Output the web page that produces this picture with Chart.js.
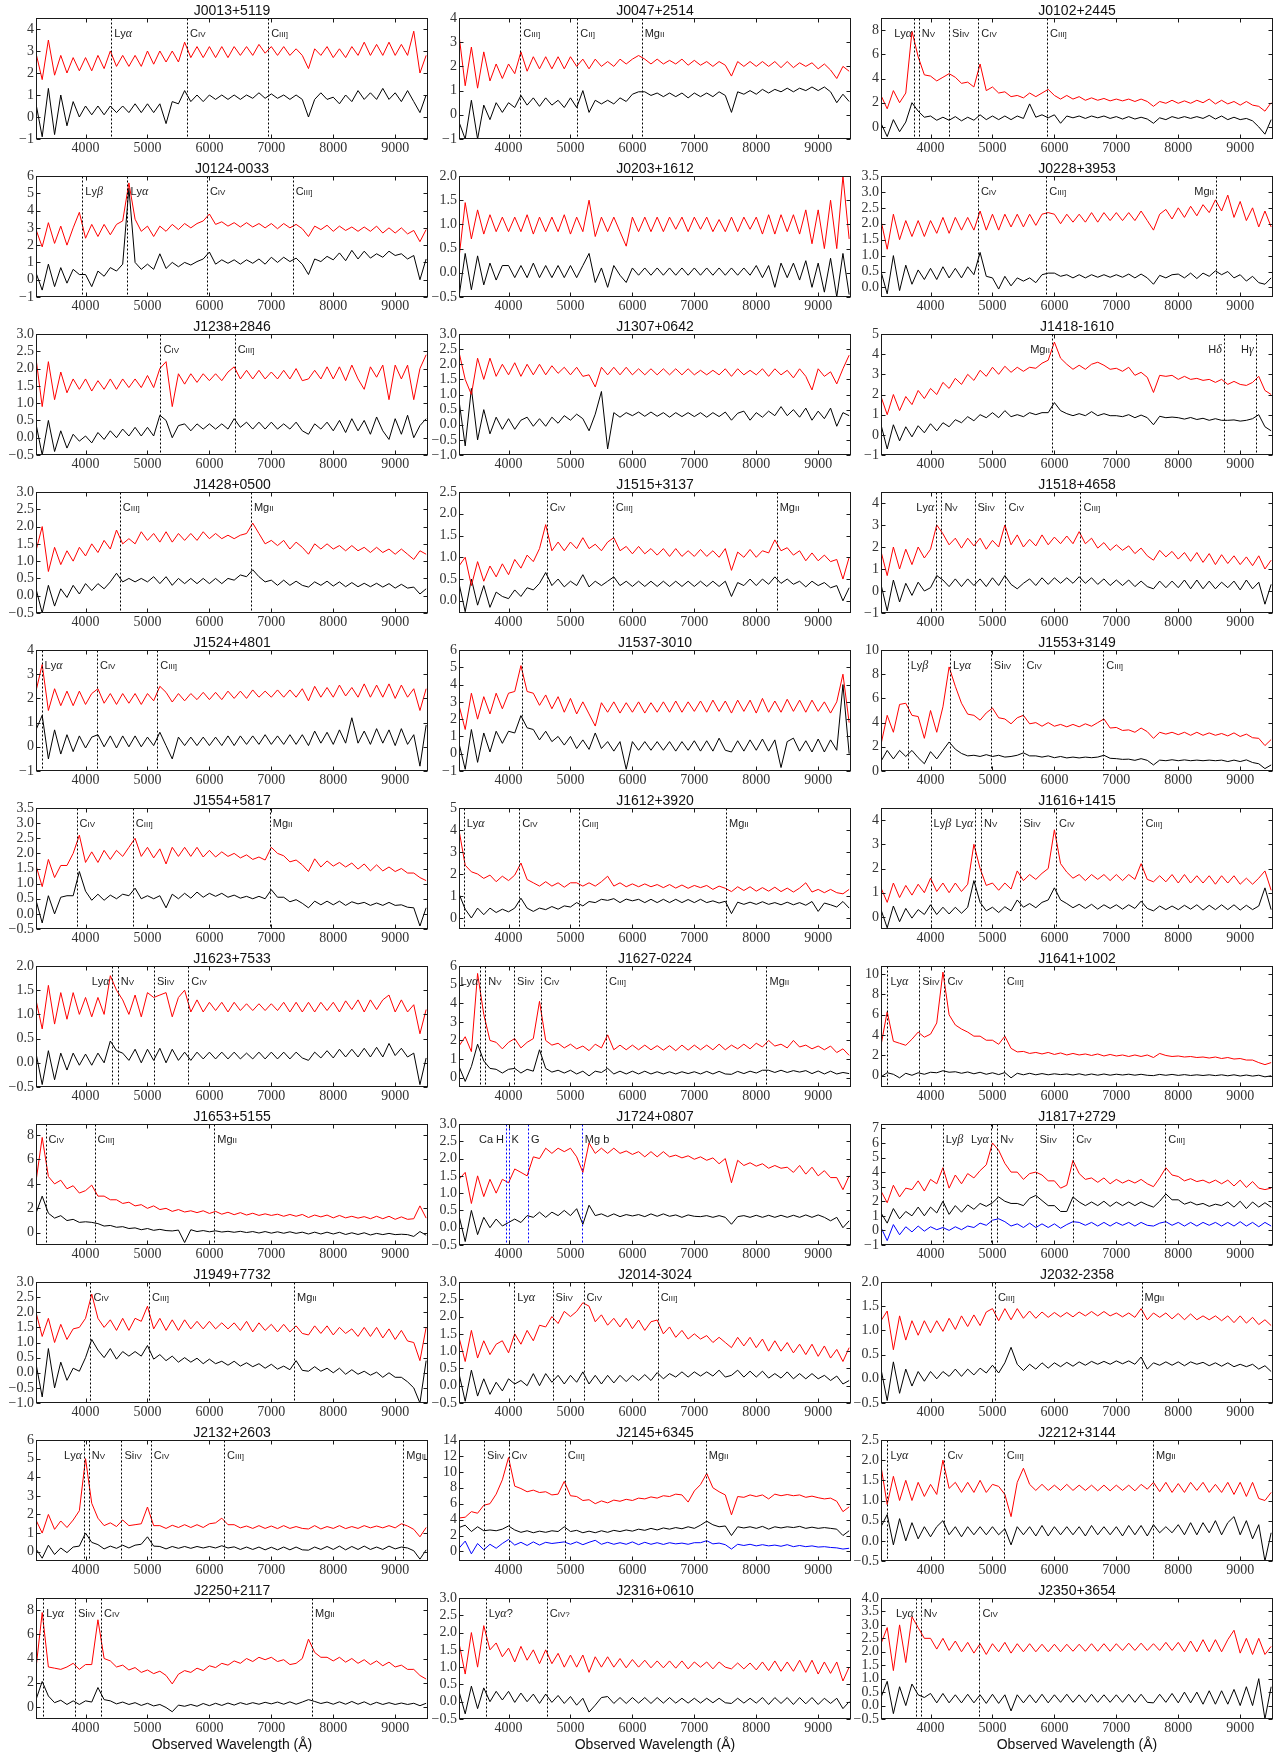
<!DOCTYPE html>
<html lang="en">
<head>
<meta charset="UTF-8">
<title>Quasar spectra</title>
<script src="https://cdn.jsdelivr.net/npm/chart.js"></script>
<style>
    body { margin: 0; background: #fff; }
    #page { position: relative; width: 1282px; height: 1756px; overflow: hidden; }
    canvas { position: absolute; }
</style>
</head>
<body>
<div id="page"></div>
<script>
// wavelength grid (Angstrom) shared by every spectrum
const wave = [3200,3300,3400,3500,3600,3700,3800,3900, 4000,4100,4200,4300,4400,4500,4600,4700,
              4800,4900,5000,5100,5200,5300,5400,5500, 5600,5700,5800,5900,6000,6100,6200,6300,
              6400,6500,6600,6700,6800,6900,7000,7100, 7200,7300,7400,7500,7600,7700,7800,7900,
              8000,8100,8200,8300,8400,8500,8600,8700, 8800,8900,9000,9100,9200,9300,9400,9500];
const xTicks = [4000, 5000, 6000, 7000, 8000, 9000];

const names = ['J0013+5119','J0047+2514','J0102+2445','J0124-0033','J0203+1612','J0228+3953',
               'J1238+2846','J1307+0642','J1418-1610','J1428+0500','J1515+3137','J1518+4658',
               'J1524+4801','J1537-3010','J1553+3149','J1554+5817','J1612+3920','J1616+1415',
               'J1623+7533','J1627-0224','J1641+1002','J1653+5155','J1724+0807','J1817+2729',
               'J1949+7732','J2014-3024','J2032-2358','J2132+2603','J2145+6345','J2212+3144',
               'J2250+2117','J2316+0610','J2350+3654'];
const yMin  = [-1,-1,-1,-1,-0.5,-0.3, -0.5,-1,-1,-0.5,-0.28,-1, -1,-1,0,-0.5,-0.5,-0.5,
               -0.5,-0.5,-1.1,-1,-0.5,-1, -1,-0.5,-0.5,-0.5,-1.2,-0.5, -1,-0.5,-0.5];
const yMax  = [4.5,4,9,6,2,3.5, 3,3,5,3,2.5,4.5, 4,6,10,3.5,5,4.5, 2,6,10.8,8.9,3,7.3,
               3,3,2,6,14,2.5, 9,3,4];
const yStep = [1,1,2,1,0.5,0.5, 0.5,0.5,1,0.5,0.5,1, 1,1,2,0.5,1,1, 0.5,1,2,2,0.5,1,
               0.5,0.5,0.5,1,2,0.5, 2,0.5,0.5];

// marked lines: [wavelength, label, side of the line the label sits on]
const lineMarks = [
  [[4414,'Lyα','r'],[5638,'C_IV','r'],[6949,'C_III]','r']],
  [[4190,'C_III]','r'],[5110,'C_II]','r'],[6150,'Mg_II','r']],
  [[3735,'Lyα','l'],[3810,'N_V','r'],[4300,'Si_IV','r'],[4770,'C_IV','r'],[5880,'C_III]','r']],
  [[3948,'Lyβ','r'],[4677,'Lyα','r'],[5960,'C_IV','r'],[7344,'C_III]','r']],
  [],
  [[4765,'C_IV','r'],[5870,'C_III]','r'],[8610,'Mg_II','l']],
  [[5210,'C_IV','r'],[6408,'C_III]','r']],
  [],
  [[5960,'Mg_II','l'],[8737,'Hδ','l'],[9250,'Hγ','l']],
  [[4553,'C_III]','r'],[6671,'Mg_II','r']],
  [[4618,'C_IV','r'],[5684,'C_III]','r'],[8329,'Mg_II','r']],
  [[4092,'Lyα','l'],[4175,'N_V','r'],[4710,'Si_IV','r'],[5210,'C_IV','r'],[6421,'C_III]','r']],
  [[3289,'Lyα','r'],[4184,'C_IV','r'],[5158,'C_III]','r']],
  [[4224,'','r']],
  [[3632,'Lyβ','r'],[4316,'Lyα','r'],[4974,'Si_IV','r'],[5500,'C_IV','r'],[6789,'C_III]','r']],
  [[3855,'C_IV','r'],[4763,'C_III]','r'],[6974,'Mg_II','r']],
  [[3276,'Lyα','r'],[4171,'C_IV','r'],[5132,'C_III]','r'],[7513,'Mg_II','r']],
  [[4000,'Lyβ','r'],[4724,'Lyα','l'],[4816,'N_V','r'],[5447,'Si_IV','r'],[6026,'C_IV','r'],[7421,'C_III]','r']],
  [[4421,'Lyα','l'],[4520,'N_V','r'],[5105,'Si_IV','r'],[5658,'C_IV','r']],
  [[3545,'Lyα','l'],[3625,'N_V','r'],[4090,'Si_IV','r'],[4520,'C_IV','r'],[5575,'C_III]','r'],[8165,'Mg_II','r']],
  [[3303,'Lyα','r'],[3816,'Si_IV','r'],[4224,'C_IV','r'],[5184,'C_III]','r']],
  [[3355,'C_IV','r'],[4145,'C_III]','r'],[6079,'Mg_II','r']],
  [[3960,'Ca H','l'],[4000,'K','r'],[4316,'G','r'],[5184,'Mg b','r']],
  [[4197,'Lyβ','r'],[4974,'Lyα','l'],[5079,'N_V','r'],[5711,'Si_IV','r'],[6303,'C_IV','r'],[7789,'C_III]','r']],
  [[4079,'C_IV','r'],[5026,'C_III]','r'],[7368,'Mg_II','r']],
  [[4092,'Lyα','r'],[4711,'Si_IV','r'],[5211,'C_IV','r'],[6408,'C_III]','r']],
  [[5039,'C_III]','r'],[7408,'Mg_II','r']],
  [[3974,'Lyα','l'],[4053,'N_V','r'],[4579,'Si_IV','r'],[5053,'C_IV','r'],[6237,'C_III]','r'],[9132,'Mg_II','r']],
  [[3605,'Si_IV','r'],[4000,'C_IV','r'],[4908,'C_III]','r'],[7184,'Mg_II','r']],
  [[3303,'Lyα','r'],[4224,'C_IV','r'],[5184,'C_III]','r'],[7592,'Mg_II','r']],
  [[3316,'Lyα','r'],[3829,'Si_IV','r'],[4250,'C_IV','r'],[7658,'Mg_II','r']],
  [[3632,'Lyα?','r'],[4618,'C_IV?','r']],
  [[3763,'Lyα','l'],[3842,'N_V','r'],[4789,'C_IV','r']]
];
const blueLinePanels = [22];

// upper (red) spectra
const redFlux = [
  [2.9,1.7,3.5,1.9,2.8,2.0,2.7,2.1, 2.7,2.1,2.8,2.2,3.0,2.3,2.8,2.3, 2.8,2.3,3.0,2.4,3.0,2.5,3.0,2.5, 3.4,2.7,3.2,2.7,3.2,2.7,3.2,2.7,
   3.2,2.8,3.2,2.8,3.3,2.9,3.2,2.8, 3.2,2.8,3.1,2.8,2.2,3.1,2.8,3.2, 2.7,3.1,2.7,3.2,2.8,3.4,2.8,3.3, 2.8,3.4,2.8,3.3,2.8,3.9,2.0,2.8],
  [3.3,1.2,2.8,1.1,2.6,1.4,2.1,1.5, 2.1,1.7,2.6,1.8,2.4,1.9,2.4,1.9, 2.4,1.9,2.4,2.0,2.3,1.9,2.3,2.0, 2.2,2.0,2.3,2.1,2.3,2.45,2.3,2.1,
   2.3,2.1,2.25,2.1,2.3,2.05,2.25,2.05, 2.2,2.0,2.2,2.05,1.6,2.2,2.0,2.2, 2.0,2.2,2.0,2.2,1.95,2.2,1.95,2.15, 2.0,2.15,1.9,2.1,1.85,1.5,2.0,1.8],
  [2.6,1.5,3.0,2.0,2.8,7.9,5.8,4.3, 4.2,3.8,4.1,4.4,4.1,3.6,3.7,3.3, 5.2,3.0,3.3,2.8,2.9,2.5,2.6,2.4, 2.8,2.5,2.8,3.1,2.6,2.3,2.6,2.3,
   2.5,2.2,2.4,2.2,2.35,2.15,2.3,2.15, 2.3,2.1,2.3,2.1,1.7,2.1,1.95,2.2, 1.95,2.15,1.95,2.2,2.0,2.3,1.9,2.2, 1.9,2.1,1.8,2.1,1.8,1.7,1.3,2.0],
  [2.9,1.9,3.3,2.1,3.1,2.0,3.0,3.9, 2.4,3.2,2.5,3.2,2.6,3.2,3.4,5.6, 3.5,2.8,3.1,2.5,3.1,2.8,3.2,2.9, 3.25,3.0,3.25,3.4,3.8,3.2,3.35,3.1,
   3.3,3.05,3.3,3.05,3.25,3.0,3.25,2.95, 3.25,3.0,3.2,2.95,2.5,3.1,2.9,3.15, 2.8,3.1,2.85,3.05,2.8,3.05,2.8,3.1, 2.7,3.0,2.7,3.0,2.65,2.85,2.2,2.9],
  [0.3,1.45,0.7,1.3,0.8,1.2,0.85,1.15, 0.85,1.15,0.85,1.2,0.8,1.15,0.85,1.15, 0.85,1.2,0.8,1.15,0.85,1.5,0.75,1.15, 0.85,1.15,0.85,0.55,1.15,0.85,1.15,0.85,
   1.15,0.85,1.15,0.9,1.15,0.85,1.15,0.9, 1.15,0.85,1.1,0.85,1.15,0.85,1.15,0.9, 1.15,0.8,1.2,0.8,1.2,0.85,1.2,0.8, 1.3,0.6,1.3,0.5,1.5,0.5,2.0,0.7],
  [2.1,1.2,2.3,1.5,2.1,1.6,2.1,1.6, 2.1,1.7,2.2,1.7,2.2,1.8,2.2,1.8, 2.4,1.8,2.3,1.8,2.3,1.9,2.3,1.9, 2.3,1.95,2.3,2.35,2.3,2.0,2.3,2.05,
   2.3,2.05,2.35,2.05,2.35,2.1,2.35,2.1, 2.35,2.1,2.4,2.1,1.8,2.3,2.45,2.15, 2.5,2.2,2.55,2.25,2.6,2.35,2.75,2.4, 2.9,2.2,2.7,2.1,2.5,1.9,2.4,1.9],
  [2.3,0.9,2.2,1.1,1.9,1.3,1.7,1.4, 1.7,1.35,1.65,1.4,1.7,1.4,1.7,1.45, 1.7,1.45,1.8,1.45,2.0,2.2,0.9,1.85, 1.55,1.85,1.6,1.85,1.65,1.85,1.65,1.9,
   2.05,1.7,1.95,1.7,1.95,1.7,1.9,1.7, 1.95,1.7,2.0,1.65,1.7,1.95,1.7,2.05, 1.7,2.05,1.65,2.1,1.7,1.4,2.05,1.75, 2.1,1.1,2.1,1.7,2.1,1.1,2.0,2.4],
  [2.4,1.5,1.0,2.2,1.5,2.2,1.6,2.0, 1.65,2.05,1.6,2.0,1.65,2.0,1.65,1.95, 1.7,1.9,1.65,1.9,1.6,1.65,1.25,1.9, 1.65,1.9,1.65,1.9,1.65,1.85,1.65,1.85,
   1.65,1.85,1.65,1.85,1.65,1.85,1.65,1.8, 1.65,1.8,1.65,1.85,1.6,1.85,1.65,1.8, 1.65,1.85,1.6,1.85,1.65,1.8,1.55,1.85, 1.6,1.15,1.85,1.6,1.75,1.35,1.85,2.3],
  [1.9,1.0,2.0,1.2,1.9,1.5,2.2,1.8, 2.3,2.0,2.6,2.3,2.8,2.5,3.0,2.7, 3.2,2.9,3.35,3.0,3.4,3.1,3.35,3.15, 3.35,3.3,3.55,3.7,4.6,3.8,3.5,3.25,
   3.45,3.25,3.5,3.6,3.45,3.25,3.3,3.15, 3.35,2.95,3.1,2.85,2.1,2.95,2.9,2.95, 2.75,2.9,2.75,2.8,2.7,2.75,2.6,2.75, 2.5,2.65,2.5,2.45,2.6,2.9,2.2,2.0],
  [1.3,2.0,0.7,1.4,0.9,1.3,1.0,1.4, 1.15,1.5,1.25,1.6,1.35,1.9,1.5,1.65, 1.5,1.85,1.6,1.8,1.55,1.85,1.55,1.8, 1.6,1.8,1.6,1.85,1.65,1.8,1.65,1.75,
   1.65,1.75,1.8,2.1,1.8,1.5,1.6,1.45, 1.6,1.35,1.55,1.4,1.2,1.5,1.35,1.5, 1.35,1.45,1.3,1.45,1.3,1.4,1.25,1.4, 1.25,1.35,1.2,1.35,1.2,1.05,1.3,1.2],
  [0.8,1.0,0.35,0.9,0.45,0.8,0.55,0.85, 0.6,0.95,0.75,1.05,0.9,1.2,1.75,1.15, 1.35,1.15,1.35,1.2,1.45,1.2,1.3,1.15, 1.35,1.45,1.15,1.25,1.08,1.25,1.08,1.2,
   1.05,1.2,1.02,1.2,1.02,1.15,1.02,1.18, 1.02,1.15,1.0,1.2,0.7,1.12,1.0,1.18, 1.0,1.15,1.1,1.4,1.15,1.22,1.05,1.15, 0.92,1.1,0.92,1.05,0.9,0.95,0.5,1.0],
  [1.8,0.7,2.0,1.0,1.9,1.2,2.0,1.5, 1.9,3.0,2.6,2.1,2.4,1.95,2.4,2.05, 2.4,1.9,2.3,2.0,3.0,2.1,2.55,2.0, 2.35,2.05,2.55,2.1,2.45,2.15,2.5,2.15,
   2.7,2.15,2.4,1.95,2.2,1.85,2.1,1.85, 2.05,1.7,1.95,1.6,1.4,1.85,1.55,1.8, 1.45,1.75,1.35,1.75,1.3,1.7,1.2,1.65, 1.25,1.6,1.2,1.55,1.15,1.6,1.0,1.4],
  [2.3,3.4,1.5,2.4,1.7,2.3,1.7,2.3, 1.75,2.2,2.4,1.8,2.2,1.75,2.2,1.8, 2.2,1.75,2.2,1.9,2.5,2.25,1.85,2.2, 1.9,2.2,1.95,2.25,1.95,2.25,1.95,2.3,
   2.0,2.3,2.0,2.35,2.05,2.3,2.05,2.35, 2.05,2.35,2.05,2.4,1.9,2.5,2.05,2.45, 2.05,2.55,2.1,2.45,2.05,2.6,2.05,2.55, 2.05,2.6,2.0,2.55,2.05,2.4,1.5,2.4],
  [2.8,1.4,3.5,2.0,3.3,2.3,3.5,2.6, 3.5,3.6,5.1,3.6,3.5,2.8,3.4,2.6, 3.3,2.4,3.2,2.3,3.0,2.3,1.6,2.95, 2.4,3.0,2.35,2.95,2.4,3.0,2.35,2.95,
   2.4,3.0,2.4,3.05,2.4,3.0,2.45,3.05, 2.4,3.1,2.45,3.05,2.35,3.1,2.45,3.1, 2.35,3.2,2.4,3.05,2.4,3.15,2.45,3.1, 2.4,3.1,2.45,3.0,2.35,3.0,4.6,1.8],
  [2.2,4.6,3.2,5.5,5.6,4.6,4.5,2.7, 5.0,3.2,5.3,8.6,7.0,5.6,4.7,4.6, 4.2,4.8,5.2,4.4,4.3,3.9,4.4,4.6, 3.9,4.0,3.7,4.0,3.7,3.85,3.65,3.85,
   3.65,3.9,3.7,4.0,4.3,3.55,3.6,3.35, 3.4,3.2,3.55,3.25,2.7,3.2,3.05,3.2, 3.0,3.2,2.95,3.2,2.95,3.15,2.95,3.1, 2.9,3.15,2.85,3.05,2.75,2.7,2.1,2.6],
  [1.6,0.9,1.8,1.2,1.6,1.6,2.0,2.6, 1.7,2.05,1.7,2.1,1.8,2.1,1.9,2.2, 2.5,1.9,2.2,1.85,2.15,1.65,2.2,1.9, 2.2,1.9,2.2,1.88,2.1,1.88,2.05,1.9,
   2.0,1.85,1.95,1.8,1.88,1.78,2.2,2.0, 1.92,1.72,1.78,1.62,1.4,1.82,1.55,1.75, 1.58,1.7,1.55,1.68,1.48,1.65,1.42,1.62, 1.42,1.55,1.4,1.5,1.35,1.35,1.2,1.1],
  [4.0,2.4,2.1,2.0,1.8,1.95,1.65,1.9, 1.7,1.95,2.5,1.75,1.6,1.45,1.65,1.45, 1.6,1.4,1.6,1.6,1.45,1.6,1.45,1.65, 1.9,1.45,1.6,1.42,1.55,1.42,1.55,1.42,
   1.52,1.38,1.52,1.36,1.5,1.35,1.48,1.38, 1.48,1.3,1.45,1.35,1.2,1.42,1.25,1.42, 1.22,1.38,1.22,1.4,1.2,1.36,1.18,1.36, 1.6,1.18,1.3,1.15,1.3,1.15,1.1,1.3],
  [1.2,0.6,1.4,0.8,1.3,0.9,1.35,1.0, 1.6,1.05,1.4,1.0,1.4,1.05,1.35,3.0, 2.0,1.3,1.4,1.1,1.4,1.15,1.9,1.5, 1.75,1.55,1.8,2.0,3.6,2.2,1.85,1.6,
   1.75,1.5,1.75,1.55,1.75,1.5,1.75,1.5, 1.75,1.55,2.2,1.55,1.45,1.7,1.45,1.75, 1.4,1.75,1.4,1.7,1.4,1.7,1.35,1.7, 1.4,1.7,1.35,1.6,1.35,1.6,1.9,1.1],
  [1.3,0.7,1.6,0.8,1.45,0.9,1.45,1.0, 1.35,0.95,1.35,1.0,1.8,1.5,1.3,1.0, 1.4,0.95,1.45,1.35,1.4,1.45,0.95,1.35, 1.5,1.05,1.3,1.05,1.25,1.08,1.25,1.05,
   1.25,1.08,1.22,1.08,1.22,1.08,1.22,1.08, 1.25,1.05,1.25,1.05,1.25,1.05,1.25,1.08, 1.25,1.05,1.28,1.1,1.3,1.05,1.3,1.1, 1.3,1.4,1.05,1.3,1.05,1.2,0.6,1.1],
  [1.7,2.2,1.4,5.6,3.4,2.0,1.9,1.55, 1.9,2.1,1.6,1.9,2.1,4.1,2.0,1.75, 1.85,1.6,1.8,1.55,1.7,1.45,1.8,1.6, 2.3,1.5,1.75,1.5,1.75,1.5,1.75,1.5,
   1.72,1.48,1.72,1.45,1.75,1.48,1.75,1.5, 1.75,1.5,1.8,1.5,1.75,1.55,1.8,1.55, 1.85,1.65,2.0,1.7,1.8,1.6,2.0,1.65, 1.75,1.55,1.7,1.5,1.7,1.35,1.55,1.2],
  [3.0,6.3,3.4,3.2,3.0,3.6,4.3,3.8, 4.1,5.2,10.2,6.0,5.0,4.6,4.3,3.9, 3.9,3.5,3.5,3.1,3.9,2.7,2.35,2.4, 2.2,2.3,2.15,2.3,2.1,2.25,2.05,2.2,
   2.05,2.15,2.0,2.15,1.95,2.1,1.95,2.05, 1.9,2.05,1.9,2.05,1.8,2.2,2.0,1.9, 1.95,1.85,1.9,1.8,1.85,1.75,1.85,1.7, 1.8,1.65,1.7,1.55,1.55,1.3,1.1,1.3],
  [4.2,7.8,4.6,4.0,4.3,3.6,3.85,3.25, 3.45,3.9,3.0,3.0,2.7,2.7,2.4,2.5, 2.2,2.3,2.0,2.2,1.9,2.0,1.75,1.9, 1.7,1.8,1.65,1.8,1.58,1.75,1.52,1.68,
   1.48,1.65,1.45,1.6,1.42,1.55,1.42,1.52, 1.35,1.5,1.35,1.5,1.25,1.45,1.3,1.45, 1.22,1.42,1.22,1.35,1.2,1.32,1.15,1.35, 1.15,1.35,1.1,1.3,1.1,1.15,2.2,1.2],
  [1.4,1.6,0.7,1.5,0.9,1.4,1.0,1.4, 1.3,1.7,1.6,1.5,2.05,2.0,2.3,2.15, 2.3,2.2,2.3,2.05,1.6,2.45,2.15,2.3, 2.15,2.3,2.15,2.22,2.12,2.2,2.05,2.2,
   2.05,2.2,2.05,2.1,2.02,2.08,1.98,2.05, 1.95,2.02,1.85,2.0,1.3,1.95,1.8,1.88, 1.78,1.85,1.72,1.8,1.72,1.75,1.6,1.8, 1.55,1.75,1.5,1.65,1.45,1.45,1.1,1.5],
  [2.7,1.9,3.1,2.3,2.9,2.8,3.4,2.7, 3.5,3.2,4.3,2.9,3.8,3.2,3.9,3.6, 4.1,4.5,6.0,5.5,4.6,4.0,4.0,3.5, 3.9,4.0,3.8,3.4,3.4,2.9,3.1,4.8,
   3.9,3.5,3.6,3.3,3.6,3.2,3.5,3.25, 3.45,3.25,3.5,3.2,3.0,3.6,4.3,3.8, 3.7,3.4,3.55,3.35,3.45,3.25,3.45,3.2, 3.45,3.05,3.45,2.95,3.35,2.9,2.8,2.9],
  [2.0,1.2,1.8,1.0,1.6,1.1,1.45,1.5, 1.8,2.6,1.8,1.5,1.75,1.4,1.8,1.4, 1.8,1.7,2.2,1.45,1.8,1.4,1.75,1.4, 1.75,1.45,1.7,1.45,1.7,1.45,1.65,1.45,
   1.65,1.4,1.7,1.35,1.65,1.4,1.6,1.35, 1.6,1.35,1.55,1.3,1.25,1.55,1.3,1.55, 1.25,1.5,1.3,1.45,1.2,1.5,1.2,1.5, 1.15,1.45,1.1,1.4,1.05,1.0,0.4,1.5],
  [1.4,0.7,1.6,0.8,1.3,0.9,1.2,1.3, 0.95,1.5,1.2,1.6,1.3,1.75,1.7,2.0, 1.8,2.15,2.0,2.15,2.4,2.3,1.85,2.05, 1.75,1.95,1.7,1.95,1.65,1.9,1.6,1.85,
   1.9,1.5,1.7,1.4,1.6,1.35,1.5,1.35, 1.45,1.25,1.4,1.25,1.1,1.4,1.15,1.4, 1.1,1.35,1.0,1.3,1.0,1.25,0.95,1.2, 0.9,1.2,0.85,1.15,0.8,1.05,0.7,1.1],
  [1.2,1.4,0.6,1.3,0.8,1.2,0.9,1.2, 0.95,1.2,0.98,1.25,1.02,1.3,1.08,1.32, 1.1,1.38,1.45,1.2,1.45,1.22,1.45,1.25, 1.4,1.25,1.38,1.27,1.37,1.28,1.37,1.28,
   1.38,1.3,1.39,1.3,1.39,1.3,1.36,1.28, 1.36,1.27,1.45,1.22,1.36,1.27,1.36,1.24, 1.35,1.22,1.34,1.22,1.3,1.22,1.3,1.2, 1.3,1.16,1.3,1.15,1.27,1.12,1.22,1.1],
  [1.7,1.0,2.0,1.2,1.65,1.3,1.7,2.2, 5.0,2.6,1.8,1.4,1.55,1.35,1.7,1.4, 1.45,1.5,2.4,1.4,1.4,1.25,1.42,1.3, 1.45,1.3,1.45,1.3,1.5,1.55,1.8,1.45,
   1.45,1.28,1.38,1.25,1.4,1.25,1.38,1.24, 1.4,1.25,1.35,1.25,1.22,1.4,1.22,1.35, 1.25,1.4,1.24,1.35,1.25,1.4,1.28,1.38, 1.28,1.4,1.28,1.5,1.38,1.2,0.8,1.3],
  [4.2,4.3,5.0,4.8,5.8,6.0,7.2,9.0, 11.8,8.2,7.9,7.5,7.7,7.4,7.5,7.1, 7.2,8.8,7.0,6.9,6.4,6.5,6.0,6.35, 6.1,6.45,6.3,6.55,6.4,6.7,6.6,6.85,
   6.7,7.0,6.9,7.2,7.1,6.2,7.6,8.4, 9.8,8.0,7.5,7.1,4.6,6.9,6.8,7.1, 6.9,7.1,6.6,7.2,7.0,7.15,7.0,7.1, 6.8,6.95,6.75,6.6,6.7,6.3,5.0,5.6],
  [1.85,0.9,1.6,1.0,1.5,1.0,1.45,1.1, 1.4,1.15,2.0,1.3,1.45,1.2,1.45,1.2, 1.5,1.2,1.4,1.35,1.15,0.6,1.45,1.8, 1.4,1.25,1.4,1.25,1.38,1.25,1.4,1.25,
   1.38,1.25,1.38,1.24,1.38,1.24,1.38,1.25, 1.38,1.24,1.4,1.28,1.45,1.22,1.45,1.2, 1.42,1.2,1.45,1.25,1.45,1.2,1.4,1.2, 1.45,1.15,1.45,1.1,1.45,1.05,1.0,1.2],
  [3.2,7.8,3.3,3.2,3.1,3.3,3.6,3.1, 3.5,3.5,7.2,4.0,3.8,3.3,3.45,3.05, 3.25,2.85,3.05,2.75,2.95,2.6,1.9,2.7, 3.0,2.85,3.2,3.0,3.4,3.25,3.6,3.45,
   3.8,3.6,4.0,3.75,4.1,3.9,4.1,3.75, 3.9,3.5,3.6,4.0,5.6,4.5,4.1,4.1, 3.8,4.1,3.7,4.0,3.6,3.9,3.5,3.8, 3.4,3.7,3.3,3.45,3.1,3.1,2.6,2.3],
  [1.7,0.8,2.0,1.0,2.2,1.5,1.7,1.3, 1.55,1.15,1.6,1.2,1.5,1.1,1.5,1.1, 1.4,1.0,1.35,1.0,1.35,0.85,1.3,1.0, 1.3,1.0,1.25,0.98,1.22,1.0,1.2,0.98,
   1.18,0.98,1.18,0.97,1.18,0.95,1.15,1.0, 1.15,0.95,1.15,1.0,0.95,1.12,0.95,1.12, 0.92,1.15,0.9,1.18,0.88,1.15,0.88,1.2, 0.85,1.2,0.8,1.15,0.82,1.15,0.6,1.0],
  [2.3,2.9,1.3,3.0,1.6,3.3,2.9,2.5, 2.5,2.1,2.5,2.05,2.4,2.0,2.35,1.95, 2.3,1.9,2.3,2.0,2.35,1.95,2.3,2.0, 2.3,2.0,2.28,2.0,2.28,2.0,2.28,2.02,
   2.28,2.02,2.3,2.02,2.3,2.02,2.3,2.05, 2.32,2.05,2.32,2.05,2.3,2.05,2.35,2.05, 2.35,2.0,2.4,2.0,2.45,2.0,2.45,2.0, 2.45,2.8,1.95,2.5,1.9,2.5,1.9,2.2]
];

// lower (black) spectra
const blackFlux = [
  [0.6,-0.9,1.3,-0.8,1.0,-0.4,0.7,0.0, 0.5,0.1,0.5,0.1,0.5,0.2,0.5,0.2, 0.6,0.2,0.6,0.2,0.6,-0.3,0.7,0.6, 1.2,0.7,1.0,0.7,1.0,0.8,1.0,0.8,
   1.0,0.8,1.0,0.85,1.1,0.85,1.05,0.85, 1.0,0.8,1.0,0.8,0.0,0.8,1.1,0.8, 0.9,0.6,1.0,0.7,1.2,0.8,1.1,0.8, 1.3,0.8,1.1,0.7,1.2,0.7,0.2,1.0],
  [-0.3,-1.0,0.6,-1.0,0.4,-0.2,0.5,0.1, 0.5,0.3,0.8,0.4,0.7,0.35,0.7,0.4, 0.6,0.3,0.7,0.3,1.0,0.1,0.6,0.45, 0.6,0.45,0.7,0.55,0.85,0.95,0.95,0.8,
   0.9,0.75,0.9,0.75,0.9,0.7,0.9,0.75, 0.9,0.75,0.95,0.8,0.1,0.95,0.85,1.0, 0.85,1.05,0.9,1.05,0.95,1.1,0.95,1.1, 1.0,1.15,1.0,1.15,0.95,0.5,0.85,0.55],
  [0.3,-0.8,0.6,-0.4,0.4,2.0,1.3,0.8, 0.9,0.55,0.8,0.55,0.85,0.5,0.8,0.55, 1.0,0.6,0.9,0.6,0.9,0.6,0.9,0.7, 1.9,0.8,1.0,0.75,1.0,0.3,0.9,0.75,
   0.9,0.7,0.9,0.75,0.9,0.7,0.85,0.65, 0.85,0.65,0.8,0.65,0.3,0.75,0.6,0.85, 0.7,0.85,0.7,0.85,0.7,0.95,0.65,0.9, 0.6,0.8,0.6,0.7,0.5,0.0,-0.6,0.6],
  [0.4,-0.6,0.9,-0.4,0.7,-0.2,0.6,0.3, 0.3,-0.4,0.5,0.2,0.7,0.5,0.9,5.3, 1.0,0.6,0.9,0.6,1.5,0.65,1.0,0.75, 1.0,0.85,1.05,1.2,1.6,0.9,1.15,0.95,
   1.15,0.9,1.15,0.95,1.2,0.9,1.3,1.0, 1.3,1.05,1.25,0.9,0.3,1.2,1.05,1.35, 1.15,1.55,1.1,1.7,1.2,1.65,1.25,1.5, 1.3,1.65,1.4,1.5,1.2,1.4,0.0,1.2],
  [-0.5,0.4,-0.35,0.35,-0.25,0.2,-0.15,0.15, 0.15,-0.1,0.15,-0.1,0.2,-0.1,0.15,-0.1, 0.15,-0.1,0.15,-0.1,0.15,0.4,-0.2,0.1, -0.3,0.15,-0.05,-0.2,0.1,-0.05,0.1,-0.05,
   0.1,-0.05,0.1,-0.05,0.1,-0.05,0.1,-0.05, 0.1,-0.05,0.1,-0.05,0.1,-0.05,0.1,-0.05, 0.15,-0.1,0.15,-0.3,0.2,-0.1,0.2,-0.15, 0.25,-0.3,0.2,-0.4,0.3,-0.5,0.4,-0.45],
  [0.5,-0.2,1.0,-0.1,0.7,0.1,0.55,0.25, 0.6,0.25,0.65,0.3,0.6,0.3,0.65,0.4, 1.1,0.35,0.3,-0.05,0.35,0.05,0.3,0.2, 0.3,0.15,0.4,0.45,0.45,0.35,0.4,0.3,
   0.4,0.3,0.4,0.32,0.4,0.32,0.4,0.32, 0.42,0.3,0.42,0.3,0.1,0.38,0.3,0.4, 0.42,0.3,0.45,0.28,0.45,0.35,0.52,0.4, 0.5,0.3,0.4,0.2,0.35,0.15,0.1,0.3],
  [0.4,-0.5,0.5,-0.4,0.2,-0.3,0.1,-0.1, 0.05,-0.15,0.15,-0.05,0.2,0.0,0.25,0.05, 0.3,0.05,0.3,0.05,0.65,0.5,0.0,0.35, 0.4,0.2,0.4,0.25,0.4,0.25,0.4,0.25,
   0.55,0.3,0.45,0.25,0.45,0.25,0.45,0.25, 0.4,0.25,0.45,0.2,0.1,0.4,0.25,0.45, 0.2,0.5,0.15,0.55,0.2,0.5,0.1,0.6, 0.2,-0.05,0.55,0.1,0.65,0.0,0.35,0.55],
  [0.8,-0.7,1.2,-0.5,0.5,-0.3,0.25,-0.15, 0.2,-0.15,0.15,0.25,-0.05,0.2,-0.05,0.25, 0.05,0.3,0.15,0.35,0.2,-0.2,0.35,1.1, -0.8,0.4,0.25,0.4,0.3,0.42,0.28,0.42,
   0.28,0.4,0.25,0.4,0.27,0.4,0.27,0.4, 0.25,0.4,0.27,0.42,0.15,0.38,0.45,0.15, 0.4,0.25,0.45,0.3,0.6,0.3,0.5,0.25, 0.55,0.15,0.45,0.2,0.55,-0.05,0.4,0.3],
  [0.5,-0.7,0.5,-0.3,0.4,-0.1,0.45,0.1, 0.55,0.2,0.6,0.4,0.75,0.6,0.9,0.7, 1.0,0.85,1.1,0.85,1.2,0.9,1.0,0.9, 1.1,1.0,1.1,1.1,1.6,1.2,1.05,0.95,
   1.05,0.95,1.15,0.95,1.05,0.95,0.95,0.9, 1.0,0.85,0.98,0.85,0.5,0.92,0.85,0.88, 0.85,0.78,0.86,0.76,0.82,0.72,0.8,0.72, 0.72,0.74,0.68,0.72,0.8,1.0,0.4,0.2],
  [0.2,-0.5,0.3,-0.3,0.2,-0.05,0.3,0.05, 0.35,0.15,0.35,0.2,0.4,0.65,0.4,0.5, 0.4,0.5,0.4,0.55,0.35,0.55,0.3,0.5, 0.35,0.5,0.35,0.5,0.35,0.5,0.35,0.5,
   0.45,0.6,0.55,0.75,0.55,0.4,0.45,0.3, 0.45,0.3,0.42,0.3,0.25,0.4,0.3,0.42, 0.28,0.4,0.26,0.38,0.26,0.36,0.26,0.36, 0.25,0.35,0.22,0.33,0.22,0.25,0.05,0.2],
  [0.4,-0.25,0.5,-0.1,0.35,-0.15,0.2,0.1, 0.05,0.25,0.1,0.3,0.25,0.4,0.65,0.35, 0.5,0.32,0.45,0.35,0.6,0.32,0.45,0.35, 0.45,0.55,0.35,0.45,0.33,0.45,0.33,0.45,
   0.33,0.45,0.33,0.45,0.33,0.45,0.33,0.45, 0.33,0.45,0.33,0.45,0.1,0.42,0.35,0.5, 0.35,0.5,0.38,0.55,0.4,0.5,0.38,0.45, 0.32,0.45,0.35,0.42,0.3,0.35,0.0,0.3],
  [0.3,-0.9,0.5,-0.5,0.35,-0.2,0.4,0.0, 0.15,0.7,0.5,0.2,0.55,0.2,0.55,0.25, 0.55,0.2,0.6,0.25,0.7,0.3,0.1,0.35, 0.55,0.25,0.6,0.3,0.6,0.35,0.6,0.35,
   0.65,0.35,0.6,0.3,0.55,0.25,0.5,0.25, 0.5,0.2,0.45,0.2,0.1,0.45,0.15,0.45, 0.15,0.5,0.1,0.5,0.1,0.45,0.1,0.4, 0.15,0.45,0.05,0.5,0.1,0.4,-0.6,0.3],
  [0.7,1.3,-0.5,0.7,-0.3,0.5,-0.2,0.45, -0.05,0.4,0.5,0.0,0.45,-0.05,0.45,0.0, 0.45,0.0,0.4,0.05,0.6,0.05,-0.5,0.4, 0.05,0.4,0.05,0.4,0.05,0.4,0.05,0.45,
   0.05,0.45,0.1,0.45,0.1,0.5,0.1,0.45, 0.1,0.5,0.1,0.5,0.05,0.65,0.15,0.6, 0.1,0.7,0.15,1.2,0.15,0.65,0.1,0.75, 0.15,0.7,0.05,0.75,0.1,0.5,-0.8,0.9],
  [0.6,-0.9,1.4,-0.5,1.2,0.1,1.3,0.6, 1.3,1.2,2.2,1.5,1.4,0.8,1.3,0.7, 1.0,0.5,1.0,0.3,0.8,0.25,1.2,0.3, 0.7,0.15,0.7,-0.9,0.7,0.2,0.7,0.2,
   0.7,0.2,0.7,0.15,0.7,0.2,0.75,0.15, 0.75,0.15,0.9,0.2,0.1,0.75,0.15,0.8, 0.2,0.85,0.15,0.8,-0.8,0.7,0.9,0.15, 0.75,0.1,0.85,0.1,0.8,0.2,4.0,0.0],
  [0.8,1.7,1.0,1.7,1.2,1.7,1.1,0.6, 1.6,1.0,1.7,2.4,1.8,1.45,1.25,1.3, 1.2,1.35,1.2,1.3,1.15,1.2,1.3,1.5, 1.25,1.25,1.15,1.25,1.1,1.2,1.08,1.15,
   1.08,1.15,1.1,1.15,1.3,1.05,1.02,0.96, 0.98,0.88,1.02,0.88,0.5,0.9,0.85,0.93, 0.85,0.92,0.85,0.9,0.85,0.9,0.85,0.9, 0.78,0.9,0.78,0.92,0.7,0.6,0.2,0.5],
  [0.45,-0.3,0.6,0.0,0.55,0.6,0.6,1.4, 0.75,0.45,0.65,0.45,0.62,0.5,0.65,0.6, 0.85,0.5,0.6,0.5,0.6,0.2,0.65,0.5, 0.68,0.52,0.72,0.55,0.68,0.58,0.68,0.55,
   0.62,0.52,0.58,0.5,0.58,0.5,0.8,0.55, 0.55,0.4,0.47,0.35,0.2,0.42,0.3,0.42, 0.3,0.42,0.28,0.4,0.33,0.38,0.28,0.36, 0.28,0.38,0.28,0.3,0.22,0.2,-0.4,0.2],
  [1.1,0.4,0.0,0.45,0.15,0.45,0.25,0.4, 0.28,0.45,0.9,0.45,0.3,0.45,0.38,0.52, 0.4,0.55,0.5,0.7,0.55,0.75,0.7,0.85, 0.8,0.88,0.7,0.86,0.78,0.85,0.7,0.85,
   0.7,0.85,0.7,0.85,0.7,0.84,0.7,0.85, 0.7,0.78,0.68,0.76,0.2,0.72,0.62,0.72, 0.62,0.74,0.62,0.7,0.6,0.72,0.6,0.7, 0.58,0.75,0.3,0.68,0.6,0.5,0.75,0.45],
  [0.3,-0.45,0.45,-0.2,0.35,-0.05,0.3,0.1, 0.5,0.1,0.4,0.12,0.4,0.15,0.4,1.5, 0.6,0.25,0.4,0.18,0.42,0.25,0.7,0.4, 0.55,0.38,0.6,0.7,1.2,0.7,0.55,0.38,
   0.52,0.35,0.52,0.32,0.5,0.35,0.5,0.32, 0.5,0.35,0.65,0.35,0.25,0.45,0.3,0.45, 0.3,0.48,0.32,0.5,0.28,0.48,0.3,0.5, 0.3,0.5,0.28,0.48,0.3,0.45,1.2,0.3],
  [0.2,-0.45,0.25,-0.35,0.2,-0.15,0.2,-0.05, 0.18,-0.05,0.2,0.0,0.45,0.25,0.2,0.05, 0.28,0.0,0.28,0.05,0.3,0.0,0.28,0.05, 0.22,0.05,0.22,0.08,0.22,0.08,0.22,0.08,
   0.22,0.08,0.2,0.08,0.22,0.08,0.22,0.08, 0.22,0.08,0.22,0.1,0.05,0.22,0.1,0.25, 0.1,0.28,0.12,0.28,0.12,0.3,0.12,0.32, 0.12,0.4,0.15,0.3,0.12,0.2,-0.45,0.1],
  [0.6,-0.2,0.6,1.8,0.9,0.5,0.45,0.25, 0.45,0.5,0.25,0.45,0.35,1.5,0.5,0.3, 0.4,0.25,0.4,0.2,0.35,0.1,0.35,0.28, 0.5,0.2,0.35,0.2,0.35,0.2,0.35,0.2,
   0.32,0.2,0.32,0.2,0.32,0.22,0.32,0.2, 0.34,0.2,0.34,0.2,0.18,0.34,0.22,0.35, 0.25,0.4,0.4,0.28,0.4,0.28,0.38,0.3, 0.38,0.22,0.36,0.2,0.35,0.2,0.28,0.22],
  [-0.1,0.3,0.15,-0.2,0.25,0.05,0.3,0.15, 0.35,0.3,0.5,0.35,0.4,0.25,0.38,0.2, 0.35,0.15,0.3,0.12,0.32,-0.2,0.25,0.1, 0.25,0.1,0.22,0.1,0.2,0.12,0.18,0.08,
   0.2,0.06,0.18,0.06,0.18,0.06,0.16,0.08, 0.16,0.06,0.15,0.05,0.02,0.14,0.05,0.14, 0.04,0.12,0.03,0.1,0.03,0.1,0.02,0.1, 0.0,0.1,-0.02,0.08,-0.03,0.06,-0.1,0.0],
  [1.6,3.0,1.6,1.2,1.4,1.0,1.1,0.85, 0.9,0.85,0.75,0.55,0.6,0.45,0.5,0.35, 0.4,0.25,0.35,0.2,0.28,0.18,0.15,0.22, -0.8,0.25,0.1,0.18,0.08,0.16,0.06,0.12,
   0.04,0.12,0.02,0.1,-0.02,0.1,-0.03,0.08, -0.04,0.08,-0.05,0.05,-0.1,0.05,-0.1,0.05, -0.1,0.04,-0.14,0.0,-0.14,0.0,-0.18,-0.05, -0.15,-0.05,-0.15,-0.12,-0.15,-0.3,0.1,-0.2],
  [0.35,-0.4,0.5,-0.2,0.3,0.0,0.25,0.05, 0.15,0.25,0.15,0.35,0.3,0.45,0.3,0.45, 0.35,0.5,0.35,0.55,0.1,0.65,0.35,0.4, 0.32,0.4,0.32,0.38,0.34,0.38,0.32,0.4,
   0.33,0.4,0.33,0.37,0.3,0.37,0.33,0.32, 0.35,0.3,0.35,0.3,0.1,0.32,0.35,0.3, 0.36,0.3,0.36,0.3,0.36,0.3,0.36,0.3, 0.37,0.3,0.37,0.3,0.2,0.3,0.0,0.2],
  [1.2,0.5,1.5,0.8,1.3,1.0,1.6,1.0, 1.6,1.2,2.0,1.1,1.7,1.25,1.75,1.45, 1.85,1.65,1.9,2.3,2.0,1.85,1.85,1.7, 2.2,2.4,2.05,1.7,1.7,1.3,1.3,2.3,
   1.95,1.7,1.95,1.7,2.0,1.65,1.95,1.7, 1.95,1.7,1.95,1.75,1.6,2.0,2.5,2.1, 2.1,1.8,1.95,1.75,1.85,1.65,1.8,1.7, 1.95,1.6,2.0,1.5,1.95,1.6,1.9,1.6],
  [0.3,-0.8,0.8,-0.5,0.35,-0.25,0.15,0.05, 0.5,1.1,0.75,0.5,0.8,0.45,0.7,0.55, 0.7,0.55,0.9,0.45,0.6,0.4,0.55,0.35, 0.5,0.35,0.48,0.3,0.45,0.3,0.38,0.25,
   0.38,0.22,0.33,0.2,0.3,0.15,0.28,0.12, 0.22,0.1,0.4,0.08,0.05,0.2,0.05,0.15, 0.0,0.15,-0.05,0.1,-0.05,0.05,-0.08,0.02, -0.15,0.0,-0.15,-0.15,-0.3,-0.5,-1.0,0.4],
  [0.35,-0.45,0.45,-0.3,0.2,-0.25,0.1,-0.15, 0.2,0.05,0.15,0.0,0.35,0.0,0.35,0.1, 0.3,0.05,0.3,0.1,0.4,0.05,0.3,0.05, 0.3,0.08,0.3,0.12,0.3,0.15,0.32,0.15,
   0.38,0.2,0.35,0.25,0.4,0.25,0.4,0.28, 0.4,0.28,0.45,0.25,0.3,0.45,0.25,0.42, 0.25,0.42,0.22,0.35,0.22,0.4,0.2,0.35, 0.2,0.35,0.2,0.3,0.15,0.28,0.05,0.15],
  [0.2,-0.45,0.35,-0.3,0.2,-0.15,0.15,-0.05, 0.15,0.0,0.15,0.05,0.2,0.05,0.2,0.08, 0.22,0.12,0.28,0.12,0.33,0.65,0.3,0.17, 0.3,0.2,0.33,0.22,0.33,0.25,0.34,0.26,
   0.35,0.28,0.36,0.3,0.36,0.3,0.37,0.31, 0.37,0.3,0.45,0.2,0.33,0.28,0.35,0.28, 0.35,0.27,0.35,0.3,0.34,0.27,0.33,0.26, 0.33,0.25,0.3,0.25,0.3,0.2,0.27,0.15],
  [0.15,-0.35,0.35,-0.15,0.2,-0.05,0.25,0.3, 1.0,0.5,0.38,0.15,0.3,0.18,0.35,0.2, 0.35,0.4,0.8,0.3,0.28,0.15,0.28,0.18, 0.28,0.18,0.28,0.2,0.28,0.2,0.32,0.2,
   0.26,0.12,0.25,0.12,0.25,0.1,0.24,0.1, 0.25,0.1,0.25,0.1,0.08,0.25,0.12,0.28, 0.12,0.3,0.1,0.28,0.12,0.3,0.12,0.25, 0.12,0.3,0.15,0.25,0.2,0.05,-0.4,0.1],
  [3.0,3.3,2.5,3.1,2.6,2.7,2.6,2.8, 3.2,2.7,2.4,2.6,2.35,2.55,2.4,2.6, 2.5,3.1,2.5,2.65,2.35,2.55,2.35,2.6, 2.4,2.65,2.5,2.7,2.55,2.8,2.65,2.9,
   2.7,2.95,2.8,3.0,2.85,3.1,2.9,3.3, 3.8,3.35,3.1,3.2,2.0,3.1,2.95,3.1, 2.9,3.15,2.8,3.1,2.95,3.1,3.0,3.15, 2.9,3.05,2.9,3.0,2.9,2.8,2.0,2.6],
  [0.35,0.65,-0.1,0.55,0.0,0.45,0.05,0.35, 0.1,0.35,0.5,0.15,0.35,0.1,0.35,0.15, 0.35,0.15,0.35,0.15,0.3,-0.1,0.35,0.15, 0.35,0.12,0.38,0.12,0.35,0.15,0.35,0.15,
   0.35,0.12,0.38,0.15,0.35,0.15,0.35,0.12, 0.38,0.15,0.38,0.12,0.4,0.2,0.35,0.2, 0.4,0.15,0.45,0.15,0.45,0.2,0.5,0.15, 0.45,0.6,0.15,0.5,0.05,0.4,-0.5,0.2],
  [0.6,2.1,0.9,0.35,0.55,0.2,0.5,0.2, 0.5,0.4,1.6,0.6,0.5,0.25,0.4,0.2, 0.35,0.12,0.3,0.08,0.2,-0.05,-0.4,0.15, 0.05,0.2,0.05,0.28,0.1,0.3,0.12,0.32,
   0.15,0.35,0.2,0.35,0.22,0.38,0.25,0.4, 0.22,0.42,0.22,0.4,0.6,0.45,0.28,0.4, 0.22,0.42,0.22,0.45,0.22,0.42,0.18,0.38, 0.2,0.35,0.2,0.32,0.2,0.3,0.1,0.3],
  [0.3,-0.35,0.45,-0.2,0.4,0.0,0.3,0.05, 0.3,-0.02,0.25,0.0,0.22,-0.05,0.22,-0.02, 0.18,-0.05,0.15,-0.1,0.1,-0.3,-0.1,0.12, 0.15,-0.05,0.12,-0.05,0.12,-0.04,0.12,-0.05,
   0.12,-0.04,0.12,-0.04,0.1,-0.04,0.1,-0.04, 0.1,-0.03,0.1,-0.03,-0.05,0.1,-0.04,0.1, -0.04,0.12,-0.08,0.12,-0.05,0.12,-0.08,0.12, -0.06,0.12,-0.08,0.1,-0.05,0.1,-0.2,0.0],
  [0.3,0.9,-0.3,0.7,0.0,0.8,0.4,0.3, 0.45,0.1,0.45,0.1,0.4,0.1,0.42,0.1, 0.4,0.08,0.42,0.08,0.4,-0.2,0.4,0.1, 0.4,0.1,0.42,0.1,0.4,0.12,0.42,0.12,
   0.4,0.12,0.42,0.12,0.4,0.12,0.4,0.12, 0.42,0.12,0.42,0.12,0.1,0.42,0.12,0.45, 0.1,0.5,0.1,0.5,0.05,0.55,0.05,0.55, 0.05,0.6,0.0,0.7,0.0,1.0,-0.5,0.7]
];

// third (blue) spectra, only two objects have one
const blueFlux = {
  23: [0.2,-0.7,0.4,-0.3,0.25,-0.1,0.3,-0.05, 0.25,0.05,0.2,0.0,0.25,0.05,0.3,0.2, 0.5,0.35,0.7,0.8,0.6,0.3,0.45,0.2, 0.5,0.2,0.45,0.2,0.45,0.15,0.4,0.6,
       0.55,0.35,0.55,0.3,0.55,0.3,0.55,0.35, 0.55,0.3,0.55,0.35,0.3,0.5,0.6,0.35, 0.55,0.3,0.55,0.3,0.55,0.35,0.55,0.3, 0.55,0.3,0.6,0.3,0.55,0.25,0.55,0.3],
  28: [0.4,1.3,-0.3,1.0,0.2,0.9,0.4,1.0, 1.5,0.8,1.15,0.75,1.2,0.8,1.15,1.0, 1.1,1.2,0.9,1.2,0.85,1.15,1.4,0.9, 1.15,0.9,1.1,0.9,1.2,0.85,1.15,0.9,
       1.1,0.88,1.1,0.95,1.05,0.9,1.1,1.1, 1.35,0.95,1.05,0.85,0.3,0.9,0.75,0.9, 0.7,0.85,0.7,0.8,0.65,0.85,0.6,0.75, 0.6,0.7,0.55,0.6,0.5,0.45,0.3,0.4]
};

const page = document.getElementById('page');
const colLeft = [36, 459, 881];
const tickFont = { family: '"Liberation Serif", "Times New Roman", serif', size: 14 };
const sans = '"Liberation Sans", Arial, sans-serif';

function yTickValues(i) {
    const out = [];
    const st = yStep[i];
    for (let k = Math.ceil(yMin[i] / st - 1e-9); k * st <= yMax[i] + 1e-9; k++) {
        out.push(Math.round(k * st * 100) / 100);
    }
    return out;
}

function fmtTick(v, step) {
    const s = step < 1 ? v.toFixed(1) : String(Math.round(v));
    return s.replace('-', '\u2212');
}

// label such as "C_IV": part after "_" is set small, greek letters italic
function drawLineLabel(ctx, x, y, text, side) {
    const parts = [];
    let small = false;
    for (const ch of text) {
        if (ch === '_') { small = true; continue; }
        let font;
        if ('αβγδ'.includes(ch)) font = 'italic 12px "Liberation Serif", serif';
        else font = (small ? '8px ' : '11px ') + sans;
        parts.push({ ch, font });
    }
    let total = 0;
    parts.forEach(p => { ctx.font = p.font; p.w = ctx.measureText(p.ch).width; total += p.w; });
    let cx = side === 'l' ? x - 2 - total : x + 3;
    ctx.fillStyle = '#222';
    ctx.textBaseline = 'alphabetic';
    ctx.textAlign = 'left';
    parts.forEach(p => { ctx.font = p.font; ctx.fillText(p.ch, cx, y); cx += p.w; });
}

function makePlugin(i, last) {
    return {
        id: 'frame' + i,
        afterDraw(chart) {
            const ctx = chart.ctx;
            const ca = chart.chartArea;
            const xs = chart.scales.x, ys = chart.scales.y;
            const L = Math.round(ca.left) + 0.5, R = Math.round(ca.right) - 0.5;
            const T = Math.round(ca.top) + 0.5, B = Math.round(ca.bottom) - 0.5;
            ctx.save();
            // dotted line markers
            ctx.lineWidth = 1;
            ctx.setLineDash([2, 2]);
            ctx.strokeStyle = blueLinePanels.includes(i) ? '#0000ff' : '#000';
            ctx.beginPath();
            lineMarks[i].forEach(m => {
                const px = Math.round(xs.getPixelForValue(m[0])) + 0.5;
                ctx.moveTo(px, T);
                ctx.lineTo(px, B);
            });
            ctx.stroke();
            ctx.setLineDash([]);
            // box and inward ticks
            ctx.strokeStyle = '#1a1a1a';
            ctx.strokeRect(L, T, R - L, B - T);
            ctx.beginPath();
            xTicks.forEach(v => {
                const px = Math.round(xs.getPixelForValue(v)) + 0.5;
                ctx.moveTo(px, B); ctx.lineTo(px, B - 4);
                ctx.moveTo(px, T); ctx.lineTo(px, T + 4);
            });
            yTickValues(i).forEach(v => {
                const py = Math.round(ys.getPixelForValue(v)) + 0.5;
                ctx.moveTo(L, py); ctx.lineTo(L + 4, py);
                ctx.moveTo(R, py); ctx.lineTo(R - 4, py);
            });
            ctx.stroke();
            // labels of the lines
            lineMarks[i].forEach(m => {
                if (m[1]) drawLineLabel(ctx, xs.getPixelForValue(m[0]), ca.top + 19, m[1], m[2]);
            });
            // object name
            ctx.fillStyle = '#111';
            ctx.font = '14px ' + sans;
            ctx.textAlign = 'center';
            ctx.textBaseline = 'middle';
            ctx.fillText(names[i], (ca.left + ca.right) / 2, ca.top - 7);
            if (last) {
                ctx.font = '14px ' + sans;
                ctx.fillText('Observed Wavelength (\u00c5)', (ca.left + ca.right) / 2, ca.bottom + 26);
            }
            ctx.restore();
        }
    };
}

function dataset(values, color) {
    return {
        data: wave.map((w, k) => ({ x: w, y: values[k] })),
        borderColor: color,
        borderWidth: 1,
        pointRadius: 0,
        tension: 0,
        clip: 0
    };
}

names.forEach((name, i) => {
    const row = Math.floor(i / 3), col = i % 3;
    const last = row === 10;
    const w = 36 + 392 + 10;
    const h = 18 + 121 + 22 + (last ? 30 : 0);
    const cv = document.createElement('canvas');
    cv.width = w; cv.height = h;
    cv.style.width = w + 'px'; cv.style.height = h + 'px';
    cv.style.left = (colLeft[col] - 36) + 'px';
    cv.style.top = (row * 158) + 'px';
    page.appendChild(cv);

    // red first so that it is painted on top
    const sets = [dataset(redFlux[i], '#ff0000'), dataset(blackFlux[i], '#000000')];
    if (blueFlux[i]) sets.push(dataset(blueFlux[i], '#0000ff'));

    new Chart(cv, {
        type: 'line',
        data: { datasets: sets },
        options: {
            responsive: false,
            animation: false,
            devicePixelRatio: 1,
            layout: { padding: { top: 18, right: 10, left: 0, bottom: last ? 30 : 0 } },
            plugins: { legend: { display: false }, tooltip: { enabled: false } },
            scales: {
                x: {
                    type: 'linear', min: 3200, max: 9530,
                    afterBuildTicks: s => { s.ticks = xTicks.map(v => ({ value: v })); },
                    afterFit: s => { s.height = 22; },
                    grid: { display: false, drawTicks: false },
                    border: { display: false },
                    ticks: { font: tickFont, color: '#333', padding: 1, maxRotation: 0, autoSkip: false,
                             callback: v => String(v) }
                },
                y: {
                    type: 'linear', min: yMin[i], max: yMax[i],
                    afterBuildTicks: s => { s.ticks = yTickValues(i).map(v => ({ value: v })); },
                    afterFit: s => { s.width = 36; },
                    grid: { display: false, drawTicks: false },
                    border: { display: false },
                    ticks: { font: tickFont, color: '#333', padding: 2, autoSkip: false,
                             callback: v => fmtTick(v, yStep[i]) }
                }
            }
        },
        plugins: [makePlugin(i, last)]
    });
});
</script>
</body>
</html>
